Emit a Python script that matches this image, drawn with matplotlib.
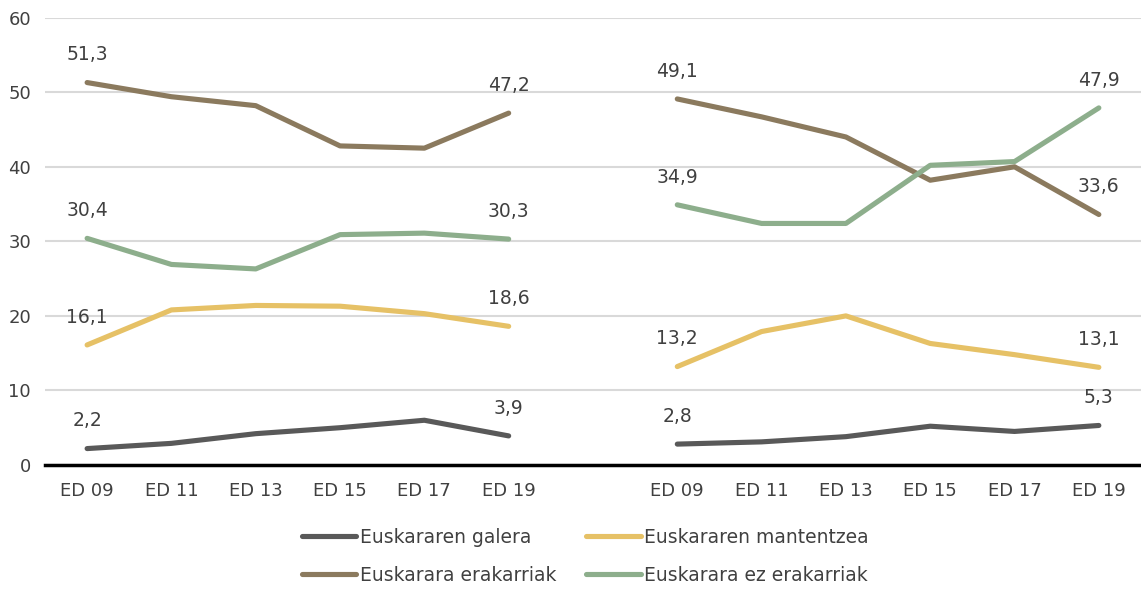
import numpy as np
import matplotlib.pyplot as plt

# categories: two groups of surveys, with an empty slot between them
categories = ["ED 09", "ED 11", "ED 13", "ED 15", "ED 17", "ED 19", "",
              "ED 09", "ED 11", "ED 13", "ED 15", "ED 17", "ED 19"]

galera_left = [2.2, 2.9, 4.2, 5.0, 6.0, 3.9]
galera_right = [2.8, 3.1, 3.8, 5.2, 4.5, 5.3]
mantentzea_left = [16.1, 20.8, 21.4, 21.3, 20.3, 18.6]
mantentzea_right = [13.2, 17.9, 20.0, 16.3, 14.8, 13.1]
erakarriak_left = [51.3, 49.4, 48.2, 42.8, 42.5, 47.2]
erakarriak_right = [49.1, 46.7, 44.0, 38.2, 40.0, 33.6]
ez_erakarriak_left = [30.4, 26.9, 26.3, 30.9, 31.1, 30.3]
ez_erakarriak_right = [34.9, 32.4, 32.4, 40.2, 40.7, 47.9]

series = [
    ("Euskararen galera", galera_left, galera_right, "#595959"),
    ("Euskararen mantentzea", mantentzea_left, mantentzea_right, "#E6C166"),
    ("Euskarara erakarriak", erakarriak_left, erakarriak_right, "#8B7A5E"),
    ("Euskarara ez erakarriak", ez_erakarriak_left, ez_erakarriak_right, "#8DAE8C"),
]

text_color = "#404040"
plt.rcParams["font.family"] = ["DejaVu Sans"]

fig = plt.figure(figsize=(11.41, 5.90), dpi=100)
ax = fig.add_axes([0.0394, 0.2119, 0.9606, 0.7581])

x = np.arange(len(categories))
handles = []
for name, left, right, color in series:
    y = np.array(left + [np.nan] + right, dtype=float)
    line, = ax.plot(x, y, color=color, lw=3.7, solid_capstyle="round",
                    solid_joinstyle="round", label=name, zorder=3)
    handles.append(line)
    for i in (0, 5, 7, 12):
        ax.annotate(f"{y[i]:.1f}".replace(".", ","), (x[i], y[i]),
                    xytext=(0, 20), textcoords="offset points",
                    ha="center", va="center", fontsize=13.5, color=text_color)

ax.set_xlim(-0.5, len(categories) - 0.5)
ax.set_ylim(0, 60)
ax.set_yticks(range(0, 61, 10))
ax.set_xticks(x)
ax.set_xticklabels(categories)
ax.tick_params(axis="both", length=0, labelsize=13, labelcolor=text_color)
ax.tick_params(axis="x", pad=12)
ax.tick_params(axis="y", pad=10)
ax.grid(axis="y", color="#D9D9D9", lw=1.5, zorder=0)
ax.set_axisbelow(True)
for side in ("top", "right", "left"):
    ax.spines[side].set_visible(False)
ax.spines["bottom"].set_color("black")
ax.spines["bottom"].set_linewidth(2.5)
ax.spines["bottom"].set_zorder(4)

# legend fills column-wise, so order handles to give rows: galera|mantentzea, erakarriak|ez
order = [0, 2, 1, 3]
leg = fig.legend([handles[i] for i in order], [series[i][0] for i in order],
                 loc="center", bbox_to_anchor=(0.513, 0.057), ncol=2,
                 frameon=False, fontsize=13.5, handlelength=2.9,
                 handletextpad=0.2, columnspacing=1.6, labelspacing=1.0)
for t in leg.get_texts():
    t.set_color(text_color)

fig.savefig("out.png", dpi=100)
